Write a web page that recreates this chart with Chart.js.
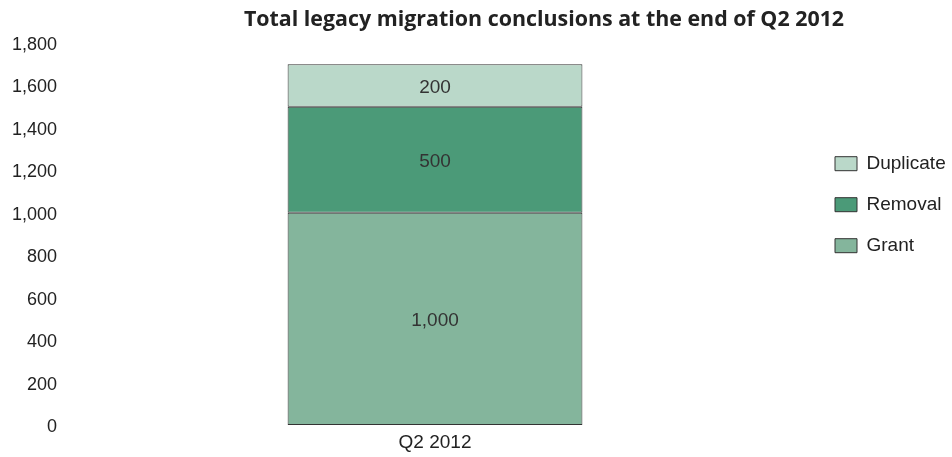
<!DOCTYPE html>
<html>
<head>
<meta charset="utf-8">
<script src="https://cdn.jsdelivr.net/npm/chart.js@4.4.1/dist/chart.umd.min.js"></script>
<style>
  html, body { margin: 0; padding: 0; background: #fff; }
  #wrap { width: 952px; height: 457px; position: relative; }
</style>
</head>
<body>
<div id="wrap"><canvas id="myChart"></canvas></div>
<script>
// chart data
let categories = ['Q2 2012']
let grant = [1000]
let removal = [500]
let duplicate = [200]
let yTicks = [0, 200, 400, 600, 800, 1000, 1200, 1400, 1600, 1800]
let chartTitle = 'Total legacy migration conclusions at the end of Q2 2012'

let textColor = '#222'

// title, drawn a bit right of the middle like the original
const titlePlugin = {
  id: 'sideTitle',
  afterDraw(chart) {
    const c = chart.ctx
    c.save()
    c.font = 'bold 21.4px "Open Sans"'
    c.fillStyle = textColor
    c.textAlign = 'center'
    c.textBaseline = 'middle'
    c.fillText(chartTitle, 544, 20)
    c.restore()
  }
}

// numbers in the middle of each block
const barLabels = {
  id: 'barLabels',
  afterDatasetsDraw(chart) {
    const c = chart.ctx
    c.save()
    c.font = '19px "Liberation Sans"'
    c.fillStyle = '#333'
    c.textAlign = 'center'
    c.textBaseline = 'middle'
    chart.data.datasets.forEach((ds, i) => {
      chart.getDatasetMeta(i).data.forEach((bar, j) => {
        c.fillText(ds.data[j].toLocaleString('en-US'), bar.x, (bar.y + bar.base) / 2 + 2)
      })
    })
    c.restore()
  }
}

const ctx = document.getElementById('myChart')

new Chart(ctx, {
  type: 'bar',
  data: {
    labels: categories,
    datasets: [
      { label: 'Grant', data: grant, backgroundColor: '#84b59c' },
      { label: 'Removal', data: removal, backgroundColor: '#4b9a78' },
      { label: 'Duplicate', data: duplicate, backgroundColor: '#bad8c9' }
    ]
  },
  options: {
    responsive: true,
    maintainAspectRatio: false,
    animation: false,
    datasets: {
      bar: {
        borderColor: '#333',
        borderWidth: 1,
        borderSkipped: false,
        barPercentage: 1,
        categoryPercentage: 0.39
      }
    },
    layout: {
      padding: { top: 43, left: 12, right: 6, bottom: 0 }
    },
    scales: {
      x: {
        stacked: true,
        grid: { display: false, drawTicks: false },
        border: { display: false },
        ticks: { color: textColor, font: { family: 'Liberation Sans', size: 19 }, padding: 6 },
        afterFit: axis => { axis.height = 32 }
      },
      y: {
        stacked: true,
        min: 0,
        max: 1800,
        afterBuildTicks: axis => { axis.ticks = yTicks.map(v => ({ value: v })) },
        grid: { display: false, drawTicks: false },
        border: { display: false },
        ticks: {
          color: textColor,
          font: { family: 'Liberation Sans', size: 18 },
          padding: 0,
          labelOffset: 2,
          callback: v => v.toLocaleString('en-US')
        }
      }
    },
    plugins: {
      title: { display: false },
      tooltip: { enabled: false },
      legend: {
        position: 'right',
        align: 'start',
        reverse: true,
        maxWidth: 133,
        title: { display: true, text: '', padding: { top: 70, bottom: 0 }, font: { size: 16 } },
        labels: {
          color: textColor,
          font: { family: 'Liberation Sans', size: 19 },
          boxWidth: 22,
          boxHeight: 14,
          padding: 22
        }
      }
    }
  },
  plugins: [titlePlugin, barLabels]
})
</script>
</body>
</html>
